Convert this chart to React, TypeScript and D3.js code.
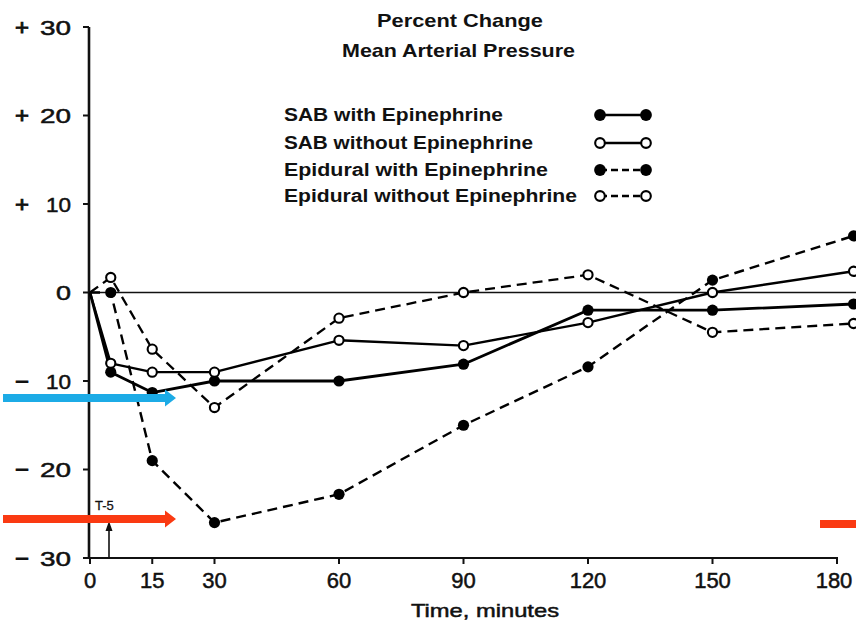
import React from "react";
import * as d3 from "d3";

// ---- data ----
const times = [0, 5, 15, 30, 60, 90, 120, 150, 184];
const sabWithEpi = [0, -9, -11.3, -10, -10, -8.1, -2, -2, -1.3];
const sabWithoutEpi = [0, -8, -9, -9, -5.4, -6, -3.4, 0, 2.4];
const epiduralWithEpi = [0, 0, -19, -26, -22.8, -15, -8.4, 1.4, 6.4];
const epiduralWithoutEpi = [0, 1.7, -6.4, -13, -2.9, 0, 2, -4.5, -3.5];

const seriesNames = [
  "SAB with Epinephrine",
  "SAB without Epinephrine",
  "Epidural with Epinephrine",
  "Epidural without Epinephrine",
];

const xTicks = [0, 15, 30, 60, 90, 120, 150, 180];
const yTicks = [-30, -20, -10, 0, 10, 20, 30];
const yTickLabels = ["− 30", "− 20", "− 10", "0", "+ 10", "+ 20", "+ 30"];

const titleLines = ["Percent Change", "Mean Arterial Pressure"];
const xTitle = "Time, minutes";
const annotation = "T-5";

export default function App() {
  const W = 856;
  const H = 625;
  const x = d3.scaleLinear().domain([0, 180]).range([90, 837]);
  const y = d3.scaleLinear().domain([-30, 30]).range([558, 27]);

  const series = [
    { name: seriesNames[0], values: sabWithEpi, filled: true, dashed: false, sw: 2.8 },
    { name: seriesNames[1], values: sabWithoutEpi, filled: false, dashed: false, sw: 2.4 },
    { name: seriesNames[2], values: epiduralWithEpi, filled: true, dashed: true, sw: 2.4 },
    { name: seriesNames[3], values: epiduralWithoutEpi, filled: false, dashed: true, sw: 2.3 },
  ];

  const line = d3
    .line<[number, number]>()
    .x((d) => x(d[0]))
    .y((d) => y(d[1]));

  const legendTextWidths = [219, 249, 264, 293];
  const legendBaselines = [121, 149, 176, 202];
  const font = "'Liberation Sans', Arial, sans-serif";

  const marker = (cx: number, cy: number, filled: boolean, key: string, big = 1) =>
    filled ? (
      <circle key={key} cx={cx} cy={cy} r={5.6 * big} fill="#000" />
    ) : (
      <circle key={key} cx={cx} cy={cy} r={4.6 * big} fill="#fff" stroke="#000" strokeWidth={2.1} />
    );

  const heavy = { stroke: "#111", strokeWidth: 0.5 } as const;

  return (
    <svg
      width={W}
      height={H}
      viewBox={`0 0 ${W} ${H}`}
      style={{ position: "absolute", left: 0, top: 0, background: "#fff" }}
    >
      <rect x={0} y={0} width={W} height={H} fill="#fff" />

      {/* title */}
      {titleLines.map((t, i) => (
        <text
          key={t}
          x={i === 0 ? 377 : 342}
          y={i === 0 ? 27 : 57}
          fontFamily={font}
          fontWeight="bold"
          fontSize={19}
          textLength={i === 0 ? 166 : 233}
          lengthAdjust="spacingAndGlyphs"
          fill="#111"
        >
          {t}
        </text>
      ))}

      {/* zero reference line */}
      <line x1={x(0)} x2={W} y1={y(0)} y2={y(0)} stroke="#111" strokeWidth={1.5} />

      {/* axes */}
      <line x1={89} x2={89} y1={y(30)} y2={y(-30) + 1} stroke="#111" strokeWidth={2.6} />
      <line x1={88} x2={x(180) + 1} y1={y(-30)} y2={y(-30)} stroke="#111" strokeWidth={2.2} />
      {yTicks.map((t, i) => {
        const parts = yTickLabels[i].split(" ");
        const num = parts[parts.length - 1];
        const sign = parts.length > 1 ? parts[0] : "";
        const numW = num === "0" ? 15 : num.startsWith("1") ? 25 : 31;
        return (
          <g key={"yt" + t}>
            <line x1={83} x2={89} y1={y(t)} y2={y(t)} stroke="#111" strokeWidth={2} />
            {sign && (
              <text
                x={15}
                y={y(t) + 7.5}
                fontFamily={font}
                fontSize={22}
                textLength={14}
                lengthAdjust="spacingAndGlyphs"
                fill="#111"
                stroke="#111"
                strokeWidth={0.9}
              >
                {sign}
              </text>
            )}
            <text
              x={71 - numW}
              y={y(t) + 7.5}
              fontFamily={font}
              fontSize={21}
              textLength={numW}
              lengthAdjust="spacingAndGlyphs"
              fill="#111"
              {...heavy}
            >
              {num}
            </text>
          </g>
        );
      })}
      {xTicks.map((t) => (
        <g key={"xt" + t}>
          <line x1={x(t)} x2={x(t)} y1={y(-30)} y2={y(-30) + 6} stroke="#111" strokeWidth={2} />
          <text
            x={x(t) - (t === 180 ? 3 : 0)}
            y={588}
            textAnchor="middle"
            fontFamily={font}
            fontSize={22}
            fill="#111"
            {...heavy}
          >
            {t}
          </text>
        </g>
      ))}
      <text
        x={411}
        y={617}
        fontFamily={font}
        fontSize={19}
        textLength={148}
        lengthAdjust="spacingAndGlyphs"
        fill="#111"
        {...heavy}
      >
        {xTitle}
      </text>

      {/* series lines */}
      {series.map((s) => (
        <path
          key={"l" + s.name}
          d={line(times.map((t, i) => [t, s.values[i]] as [number, number])) || ""}
          fill="none"
          stroke="#000"
          strokeWidth={s.sw}
          strokeDasharray={s.dashed ? "10,6" : undefined}
          strokeLinejoin="round"
        />
      ))}
      {series.map((s) =>
        times.slice(1).map((t, i) => marker(x(t), y(s.values[i + 1]), s.filled, s.name + t))
      )}

      {/* legend */}
      {series.map((s, i) => (
        <g key={"lg" + s.name}>
          <text
            x={284}
            y={legendBaselines[i]}
            fontFamily={font}
            fontWeight="bold"
            fontSize={17.5}
            textLength={legendTextWidths[i]}
            lengthAdjust="spacingAndGlyphs"
            fill="#111"
          >
            {s.name}
          </text>
          <line
            x1={600}
            x2={646}
            y1={legendBaselines[i] - 6}
            y2={legendBaselines[i] - 6}
            stroke="#000"
            strokeWidth={2.4}
            strokeDasharray={s.dashed ? "7,4" : undefined}
          />
          {marker(600, legendBaselines[i] - 6, s.filled, "m1", 1.05)}
          {marker(646, legendBaselines[i] - 6, s.filled, "m2", 1.05)}
        </g>
      ))}

      {/* T-5 annotation */}
      <text x={95} y={510} fontFamily={font} fontSize={13} fill="#111" stroke="#111" strokeWidth={0.3}>
        {annotation}
      </text>
      <line x1={109} x2={109} y1={y(-30)} y2={528} stroke="#111" strokeWidth={1.6} />
      <polygon points="109,521 105.5,531 112.5,531" fill="#111" />

      {/* coloured overlay arrows */}
      <polygon points="3,394 165,394 165,389.5 176,398 165,406.5 165,402 3,402" fill="#1cabe6" />
      <polygon points="3,515 165,515 165,510.5 176,519 165,527.5 165,523 3,523" fill="#fa3a12" />
      <rect x={820} y={520} width={36} height={8} fill="#fa3a12" />
    </svg>
  );
}
